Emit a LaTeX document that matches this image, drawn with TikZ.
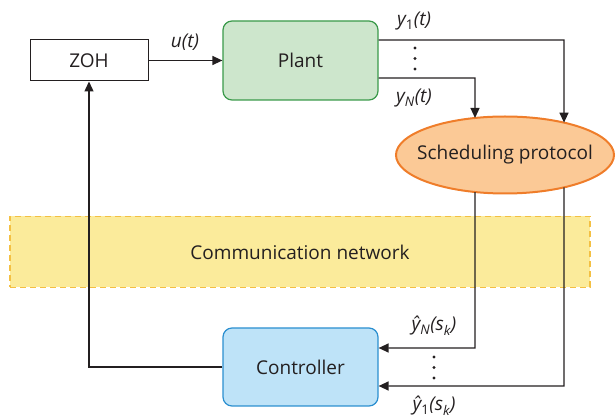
\documentclass[tikz,border=0pt]{standalone}
\usepackage{fontspec}
\setmainfont{Open Sans}
\usetikzlibrary{shapes.geometric,arrows.meta,intersections}
\definecolor{ink}{HTML}{231F20}
\definecolor{plantfill}{HTML}{CDE6CC}
\definecolor{plantline}{HTML}{3A9A4A}
\definecolor{schedfill}{HTML}{FBC996}
\definecolor{schedline}{HTML}{EF7D2A}
\definecolor{ctrlfill}{HTML}{BEE3F8}
\definecolor{ctrlline}{HTML}{2B8FD0}
\definecolor{netfill}{HTML}{FBEB9B}
\definecolor{netline}{HTML}{F4C043}
\tikzset{
  txt/.style={text=ink, font=\fontsize{19}{22}\selectfont},
  blk/.style={txt, draw=ink, line width=1pt, fill=white, inner sep=0pt},
  rblk/.style={blk, rounded corners=9pt, line width=1.2pt},
  wire/.style={draw=ink, line width=1.3pt},
  arr/.style={wire, -{Triangle[length=10pt,width=9pt]}},
  lbl/.style={text=ink, font=\fontsize{19}{22}\selectfont\itshape, inner sep=0pt},
  dotmark/.style={circle, fill=ink, inner sep=0pt, minimum size=3.4pt},
}
\newcommand{\sub}[1]{\textsubscript{#1}}
\begin{document}
\begin{tikzpicture}[x=1pt,y=-1pt]
\useasboundingbox (0,0) rectangle (616,419);

% communication network band
\node[txt, draw=netline, fill=netfill, dashed, dash pattern=on 6pt off 4pt, line width=1.2pt,
      minimum width=580pt, minimum height=71pt, inner sep=0pt] (net) at (300,252) {Communication network};

% blocks
\node[blk, minimum width=118pt, minimum height=41pt] (zoh) at (89,60.5) {ZOH};
\node[rblk, draw=plantline, fill=plantfill, minimum width=155pt, minimum height=79pt] (plant) at (300.5,60.5) {Plant};
\node[blk, ellipse, draw=schedline, fill=schedfill, line width=2pt, minimum width=218pt, minimum height=77pt,
      name path=sched, label={[txt, inner sep=0pt]center:Scheduling protocol}] (sched) at (505,155) {};
\node[rblk, draw=ctrlline, fill=ctrlfill, minimum width=155pt, minimum height=78pt] (ctrl) at (300.5,367) {Controller};

% helper points for the output channels
\coordinate (c1) at (564,40);
\coordinate (cN) at (475,78);
\coordinate (d1) at (564,386);
\coordinate (dN) at (475,348);
\path[name path=v1] (564,40) -- (564,400);
\path[name path=vN] (475,40) -- (475,400);
\path[name intersections={of=v1 and sched, name=i1}];
\path[name intersections={of=vN and sched, name=iN}];

% plant outputs to the scheduler
\draw[arr] (plant.east |- c1) -- (c1) -- (i1-1);
\draw[arr] (plant.east |- cN) -- (cN) -- (iN-1);

% scheduler to controller
\draw[arr] (iN-2) -- (dN) -- (ctrl.east |- dN);
\draw[arr] (i1-2) -- (d1) -- (ctrl.east |- d1);

% control loop
\draw[arr] (zoh.east) -- (plant.west);
\coordinate (fb) at (89,367);
\draw[arr] (ctrl.west) -- (fb) -- (zoh.south);

% labels
\node[lbl] (lu) at (185,42) {u(t)};
\node[lbl] (ly1) at (414,21) {y\sub{\upshape 1}(t)};
\node[lbl] (lyN) at (414,98) {y\sub{N}(t)};
\node[lbl] (lhN) at (434,326) {ŷ\sub{N}(s\sub{k})};
\node[lbl] (lh1) at (434,406) {ŷ\sub{\upshape 1}(s\sub{k})};

% ellipsis dots
\foreach \yy [count=\i] in {48,58.5,69} \node[dotmark] (ta\i) at (415,\yy) {};
\foreach \yy [count=\i] in {357,367.5,378} \node[dotmark] (tb\i) at (434,\yy) {};
\end{tikzpicture}
\end{document}
